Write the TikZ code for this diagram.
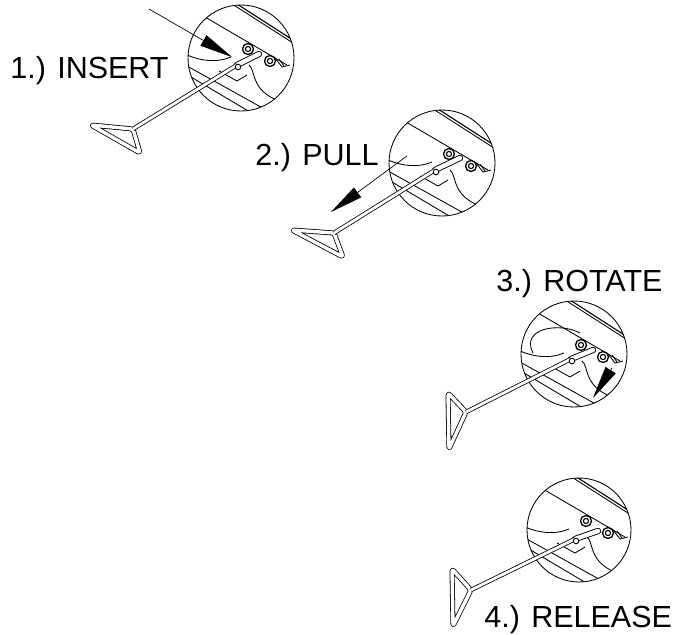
\documentclass[tikz,border=0pt]{standalone}
\usepackage{fontspec}
\setmainfont{Liberation Sans}
\usetikzlibrary{arrows.meta}

\begin{document}
\begin{tikzpicture}[x=1pt,y=-1pt,line width=.85pt,
  lever/.style={double=white,double distance=2.8pt,line width=.8pt,line join=round},
  leverend/.style={double=white,double distance=4.4pt,line width=.9pt,line cap=round},
  grip/.style={double=white,double distance=3.4pt,line width=.8pt,rounded corners=2.5pt,line join=round},
  stepnote/.style={anchor=base west,inner sep=0pt,font=\fontsize{30.5}{33}\selectfont},
  movearrow/.style={line width=.7pt,-{Triangle[length=33pt,width=12pt]}}]

  \useasboundingbox (0,0) rectangle (686,635);

  % circled close-ups
  \foreach \cx/\cy/\rad in {241/58/53,442/163/53,574/354/53,579/530/52}{
    \begin{scope}[shift={(\cx,\cy)}]
      \clip (0,0) circle (\rad);
      \draw[line width=1.1pt] (-4,-54) -- (55,-16);
      \draw (-12,-56) -- (52,-15);
      \draw (-36,-41) -- (46,7);
      \draw (-54,8) -- (36,58);
      \draw (-50,19) -- (14,57);
      \draw (-54,-3) .. controls (-40,3) and (-24,5) .. (-10,-1);
      \draw (8,7) .. controls (15,12) and (9,32) .. (38,43);
      \draw (-22,13) -- (-4,23) -- (6,17);
      \draw (34,0) -- (41,9) -- (49,7);
      \draw (38,1) -- (43,8);
      \foreach \nx/\ny in {7/-9,29/3}{
        \draw[line width=1.3pt] (\nx,\ny) circle (5.5);
        \draw[line width=1.1pt] (\nx,\ny) circle (2.6);
      }
    \end{scope}
    \draw (\cx,\cy) circle (\rad);
  }

  % levers
  \foreach \ax/\ay/\bx/\by/\ex/\ey/\px/\py/\tx/\ty in {
    91/125/133/129/140/153/237/65/259/54,
    292/230/334/233/343/257/435/170/460/158,
    448/393/466/412/449/449/571/359/593/350,
    452/569/471/590/453/626/575/539/598/531}{
    \draw[grip] (\ax,\ay) -- (\bx,\by) -- (\ex,\ey) -- cycle;
    \draw[leverend] (\px,\py) -- (\tx,\ty);
    \draw[lever] (\bx,\by) -- (\px,\py);
    \draw[fill=white] (\px+1,\py+2) circle (2.8);
  }

  % movement arrows
  \coordinate (insertstart) at (149,9);
  \coordinate (inserttip) at (232,57);
  \coordinate (pullstart) at (407,156);
  \coordinate (pulltip) at (331,212);
  \coordinate (rotatestart) at (612,368);
  \coordinate (rotatetip) at (593,398);
  \coordinate (arcstart) at (580,333);
  \coordinate (arcend) at (533,353);

  \draw[movearrow] (insertstart) -- (inserttip);
  \draw[movearrow] (pullstart) -- (pulltip);
  \draw[movearrow] (rotatestart) -- (rotatetip);
  \draw (arcstart) .. controls (560,322) and (520,328) .. (arcend);

  % step texts
  \node[stepnote] (insert) at (10,78) {1.) INSERT};
  \node[stepnote] (pull) at (255,165) {2.) PULL};
  \node[stepnote] (rotate) at (496,291) {3.) ROTATE};
  \node[stepnote] (release) at (484,627) {4.) RELEASE};
\end{tikzpicture}
\end{document}
